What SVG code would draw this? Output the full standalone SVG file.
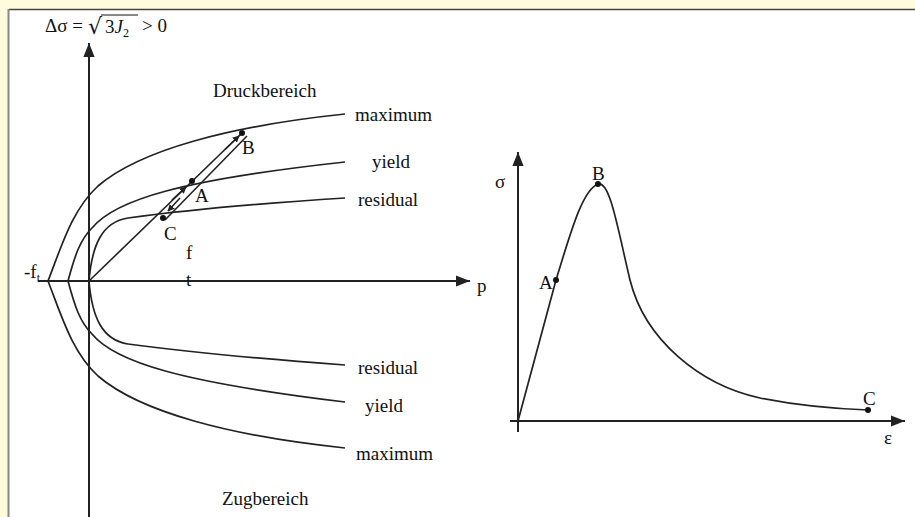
<svg xmlns="http://www.w3.org/2000/svg" width="915" height="517" viewBox="0 0 915 517">
<defs>
<style>
.t{font-family:"Liberation Serif","Times New Roman",serif;font-size:19px;fill:#111}
.ax{stroke:#222;stroke-width:2;fill:none}
.cv{stroke:#222;stroke-width:1.7;fill:none}
.ln{stroke:#222;stroke-width:1.6;fill:none}
</style>
<marker id="ah" viewBox="0 0 10 10" refX="9" refY="5" markerWidth="7" markerHeight="7" markerUnits="userSpaceOnUse" orient="auto"><path d="M0,0 L10,5 L0,10 z" fill="#222"/></marker>
<marker id="big" viewBox="0 0 10 10" refX="10" refY="5" markerWidth="14" markerHeight="14" markerUnits="userSpaceOnUse" orient="auto"><path d="M0,1 L10,5 L0,9 z" fill="#222"/></marker>
</defs>
<rect x="0" y="0" width="915" height="517" fill="#fffbdc"/>
<rect x="9" y="9" width="906" height="508" fill="#ffffff"/>
<line x1="9" y1="9.5" x2="915" y2="9.5" stroke="#444" stroke-width="1.5"/>
<line x1="8.5" y1="9" x2="8.5" y2="517" stroke="#888" stroke-width="2"/>

<g id="left-axes">
<line class="ax" x1="89" y1="517" x2="89" y2="43" marker-end="url(#big)"/>
<line class="ax" x1="38" y1="281" x2="470" y2="281" marker-end="url(#big)"/>
</g>
<g id="formula">
<text class="t" x="45" y="32">Δσ =</text>
<text x="88" y="34" font-family="DejaVu Serif, serif" font-size="22" fill="#111">√</text>
<line x1="101" y1="15" x2="138" y2="15" stroke="#111" stroke-width="1.2"/>
<text class="t" x="105" y="33">3<tspan font-style="italic">J</tspan><tspan font-size="12" dy="4">2</tspan></text>
<text class="t" x="142" y="32">&gt; 0</text>
</g>
<g id="curves-left">
<path id="max-up" class="cv" d="M48,281 C62,245 72,210 98,186 C140,150 230,126 345,114"/>
<path id="yield-up" class="cv" d="M68,281 C75,255 80,240 92,228 C115,200 180,180 345,162"/>
<path id="res-up" class="cv" d="M89,281 C92,245 102,222 128,218 C180,211 250,204 345,198"/>
<path id="max-dn" class="cv" d="M48,281 C62,317 72,352 98,376 C140,412 230,436 345,448"/>
<path id="yield-dn" class="cv" d="M68,281 C75,307 80,322 92,334 C115,362 180,382 345,402"/>
<path id="res-dn" class="cv" d="M89,281 C92,317 102,340 128,344 C180,351 250,358 345,365"/>
</g>
<g id="connectors">
<line class="ln" x1="89" y1="281" x2="242" y2="133"/>
<line class="ln" x1="247" y1="136" x2="165" y2="220"/>
<line class="ln" x1="225" y1="149.5" x2="239" y2="136" marker-end="url(#ah)"/>
<line class="ln" x1="172" y1="200" x2="186" y2="187" marker-end="url(#ah)"/>
<line class="ln" x1="180" y1="198" x2="168" y2="211" marker-end="url(#ah)"/>
</g>
<g id="points-left">
<circle cx="242" cy="133" r="3" fill="#111"/>
<circle cx="192" cy="181" r="3" fill="#111"/>
<circle cx="163" cy="218" r="3" fill="#111"/>
<text class="t" x="242" y="154">B</text>
<text class="t" x="195" y="202">A</text>
<text class="t" x="164" y="240">C</text>
</g>
<g id="labels-left">
<text class="t" x="213" y="97">Druckbereich</text>
<text class="t" x="222" y="505">Zugbereich</text>
<text class="t" x="355" y="121">maximum</text>
<text class="t" x="372" y="168">yield</text>
<text class="t" x="358" y="206">residual</text>
<text class="t" x="358" y="374">residual</text>
<text class="t" x="365" y="412">yield</text>
<text class="t" x="356" y="460">maximum</text>
<text class="t" x="477" y="292">p</text>
<text class="t" x="186" y="259">f</text>
<text class="t" x="186" y="286">t</text>
<text class="t" x="24" y="278">-f<tspan font-size="12" dy="4">t</tspan></text>
</g>
<g id="right-axes">
<line class="ax" x1="518" y1="432" x2="518" y2="152" marker-end="url(#big)"/>
<line class="ax" x1="510" y1="421" x2="905" y2="421" marker-end="url(#big)"/>
<text class="t" x="495" y="188">σ</text>
<text class="t" x="884" y="444">ε</text>
</g>
<g id="curve-right">
<path class="cv" d="M518,421 L556,280 C570,235 582,190 598,184 C610,180 618,230 630,280 C645,340 700,385 760,398 C800,406 840,409 868,410"/>
<circle cx="556" cy="280" r="3" fill="#111"/>
<circle cx="598" cy="184" r="3" fill="#111"/>
<circle cx="868" cy="410" r="3" fill="#111"/>
<text class="t" x="539" y="289">A</text>
<text class="t" x="592" y="180">B</text>
<text class="t" x="863" y="405">C</text>
</g>
</svg>
